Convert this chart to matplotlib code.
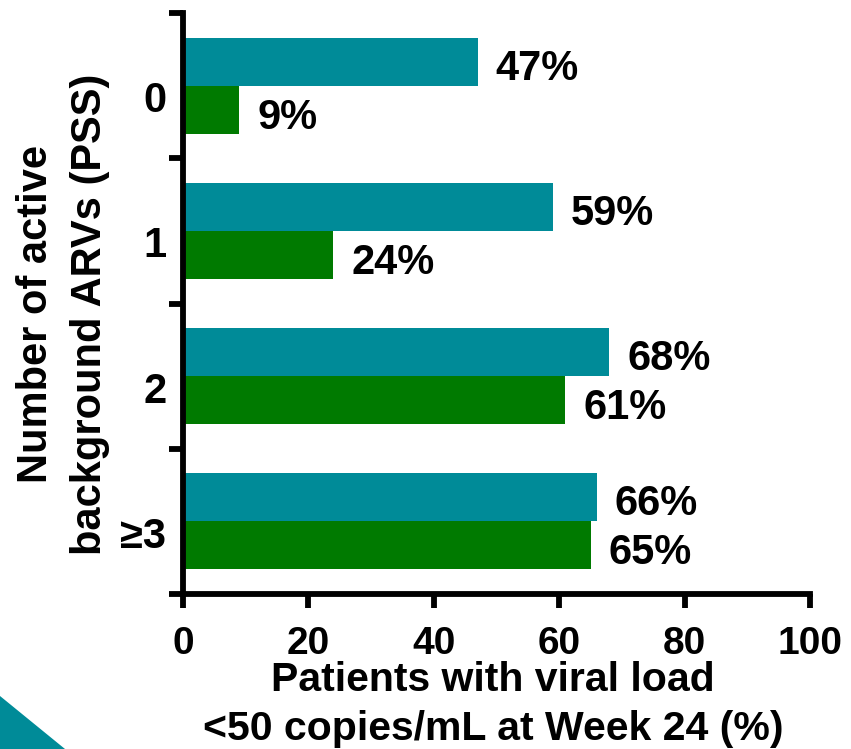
import matplotlib
matplotlib.use("Agg")
import matplotlib.pyplot as plt
from matplotlib.patches import Polygon
from matplotlib.transforms import ScaledTranslation

plt.rcParams['font.family'] = ['Liberation Sans', 'DejaVu Sans']
plt.rcParams['font.weight'] = 'bold'

categories = ["0", "1", "2", "\u22653"]
teal_values = [47, 59, 68, 66]
green_values = [9, 24, 61, 65]
x_ticks = [0, 20, 40, 60, 80, 100]

TEAL = "#008B98"
GREEN = "#007A00"

fig = plt.figure(figsize=(8.51, 7.49), dpi=100)
ax = fig.add_axes([183 / 851, 155 / 749, 627 / 851, 581 / 749])

bar_h = 0.33
pos = list(range(len(categories)))
teal_y = [p - bar_h / 2 for p in pos]
green_y = [p + bar_h / 2 for p in pos]
ax.barh(teal_y, teal_values, height=bar_h, color=TEAL, zorder=2)
ax.barh(green_y, green_values, height=bar_h, color=GREEN, zorder=2)

for y, v in zip(teal_y, teal_values):
    ax.annotate(f"{v}%", (v, y), xytext=(18, -7), textcoords="offset pixels",
                ha="left", va="center", fontsize=30, fontweight="bold")
for y, v in zip(green_y, green_values):
    ax.annotate(f"{v}%", (v, y), xytext=(18, -8), textcoords="offset pixels",
                ha="left", va="center", fontsize=30, fontweight="bold")

ax.set_xlim(0, 100)
ax.set_ylim(len(categories) - 0.5, -0.5)
ax.set_xticks(x_ticks)
ax.set_xticklabels([str(t) for t in x_ticks], fontsize=28, fontweight="bold")
ax.set_yticks([p - 0.5 for p in pos] + [len(categories) - 0.5])
ax.set_yticklabels([])
ax.set_yticks(pos, minor=True)
ax.set_yticklabels(categories, minor=True, fontsize=30, fontweight="bold")
ax.tick_params(axis="y", which="minor", length=0, pad=12)
ax.tick_params(axis="both", which="major", length=10, width=4.2, direction="out")
ax.tick_params(axis="x", pad=13)

# nudge category labels a little below the group centres
shift = ScaledTranslation(0, -11 / 100, fig.dpi_scale_trans)
for lbl in ax.get_yticklabels(minor=True):
    lbl.set_transform(lbl.get_transform() + shift)

for side in ("top", "right"):
    ax.spines[side].set_visible(False)
for side in ("left", "bottom"):
    ax.spines[side].set_linewidth(4.2)

fig.text(493 / 851, 1 - 691 / 749, "Patients with viral load", ha="center", va="baseline",
         fontsize=29.5, fontweight="bold")
fig.text(493 / 851, 1 - 740 / 749, "<50 copies/mL at Week 24 (%)", ha="center", va="baseline",
         fontsize=29.5, fontweight="bold")
fig.text(47 / 851, 1 - 314 / 749, "Number of active", rotation=90, rotation_mode="anchor",
         ha="center", va="baseline", fontsize=30, fontweight="bold")
fig.text(101 / 851, 1 - 314 / 749, "background ARVs (PSS)", rotation=90, rotation_mode="anchor",
         ha="center", va="baseline", fontsize=30, fontweight="bold")

corner = Polygon([(0, 1 - 696 / 749), (65 / 851, 0), (0, 0)], closed=True,
                 transform=fig.transFigure, facecolor=TEAL, edgecolor="none")
fig.patches.append(corner)

fig.savefig("out.png", dpi=100)
